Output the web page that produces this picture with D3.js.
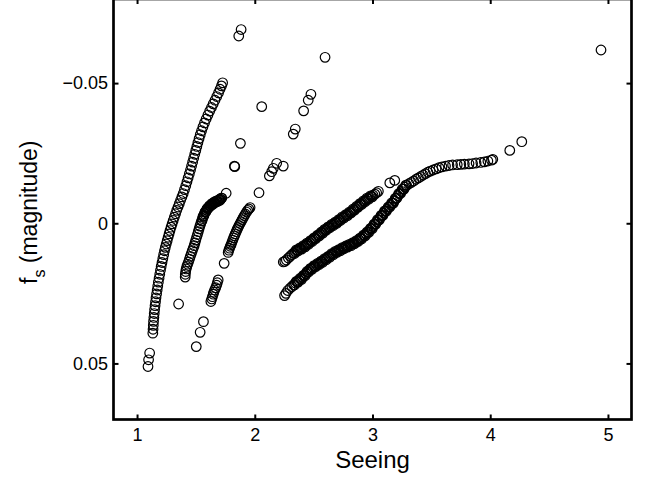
<!DOCTYPE html>
<html>
<head>
<meta charset="utf-8">
<script src="https://cdn.jsdelivr.net/npm/d3@7"></script>
<style>
  html, body { margin: 0; padding: 0; background: #fff; }
  svg { display: block; font-family: "Liberation Sans", Arial, Helvetica, sans-serif; }
</style>
</head>
<body>
<svg id="chart" width="654" height="479"></svg>
<script>
// ---------- data: [seeing, f_s] ----------
const xTicks = [1, 2, 3, 4, 5];
const xTickLabels = ["1", "2", "3", "4", "5"];
const yTicks = [-0.05, 0, 0.05];
const yTickLabels = ["\u22120.05", "0", "0.05"];
const xLabel = "Seeing";

const arcA = [
  [1.093,0.0511],[1.098,0.0487],[1.107,0.0463],
  [1.134,0.0392],[1.136,0.0378],[1.138,0.0364],[1.140,0.0350],[1.143,0.0336],[1.146,0.0322],[1.149,0.0308],
  [1.153,0.0294],[1.157,0.0280],[1.161,0.0266],[1.166,0.0252],[1.171,0.0238],[1.176,0.0224],[1.181,0.0210],
  [1.187,0.0196],[1.193,0.0182],[1.199,0.0168],[1.205,0.0154],[1.212,0.0140],[1.219,0.0126],[1.226,0.0112],
  [1.233,0.0098],[1.240,0.0086],[1.248,0.0074],[1.256,0.0062],[1.264,0.0050],[1.272,0.0038],[1.280,0.0026],
  [1.289,0.0014],[1.298,0.0002],[1.307,-0.0010],[1.317,-0.0022],[1.327,-0.0034],[1.337,-0.0046],[1.348,-0.0058],
  [1.359,-0.0070],[1.370,-0.0082],[1.381,-0.0094],[1.392,-0.0106],[1.403,-0.0120],[1.414,-0.0134],[1.424,-0.0148],
  [1.434,-0.0162],[1.444,-0.0176],[1.454,-0.0190],[1.463,-0.0204],[1.472,-0.0218],[1.481,-0.0232],[1.490,-0.0246],
  [1.499,-0.0260],[1.508,-0.0274],[1.517,-0.0288],[1.527,-0.0302],[1.537,-0.0316],[1.548,-0.0330],[1.560,-0.0344],
  [1.573,-0.0358],[1.587,-0.0372],[1.602,-0.0386],[1.617,-0.0400],[1.632,-0.0413],[1.647,-0.0426],[1.662,-0.0439],
  [1.677,-0.0452],[1.692,-0.0465],[1.705,-0.0478],[1.717,-0.0490],[1.727,-0.0501]
];

const bandB = [
  [1.409,0.0192],[1.410,0.0182],[1.413,0.0172],[1.417,0.0163],[1.423,0.0154],[1.430,0.0146],[1.437,0.0138],
  [1.445,0.0128],[1.453,0.0118],[1.461,0.0108],[1.469,0.0098],[1.477,0.0089],[1.485,0.0080],[1.492,0.0070],
  [1.499,0.0060],[1.506,0.0050],[1.513,0.0040],[1.520,0.0030],[1.527,0.0020],[1.534,0.0010],[1.541,0.0001],
  [1.548,-0.0008],[1.556,-0.0017],[1.564,-0.0026],[1.572,-0.0034],[1.581,-0.0041],[1.590,-0.0047],[1.600,-0.0053],
  [1.610,-0.0058],[1.620,-0.0062],[1.630,-0.0066],[1.640,-0.0069],[1.650,-0.0072],[1.660,-0.0075],[1.670,-0.0077],
  [1.680,-0.0079],[1.690,-0.0081],[1.700,-0.0083],[1.710,-0.0086],[1.720,-0.0090],[1.757,-0.0107]
];

const bandBDense = [
  [1.552,-0.0010],[1.560,-0.0024],[1.568,-0.0028],[1.577,-0.0040],[1.586,-0.0042],[1.595,-0.0052],[1.605,-0.0054],
  [1.615,-0.0062],[1.625,-0.0062],[1.635,-0.0070],[1.645,-0.0068],[1.655,-0.0076],[1.665,-0.0074],[1.675,-0.0080],
  [1.685,-0.0078],[1.695,-0.0084],[1.705,-0.0082],[1.715,-0.0090]
];

const bandC = [
  [1.740,0.0143],[1.774,0.0104],[1.780,0.0096],[1.786,0.0089],[1.792,0.0082],[1.799,0.0076],[1.806,0.0068],
  [1.813,0.0060],[1.820,0.0052],[1.827,0.0045],[1.834,0.0038],[1.842,0.0030],[1.850,0.0022],[1.858,0.0015],
  [1.866,0.0008],[1.875,0.0001],[1.884,-0.0006],[1.893,-0.0013],[1.902,-0.0020],[1.911,-0.0027],[1.920,-0.0033],
  [1.930,-0.0040],[1.940,-0.0046],[1.950,-0.0051],[1.960,-0.0056],[2.036,-0.0109]
];

const bandD = [
  [1.689,0.0202],[1.682,0.0212],[1.676,0.0221],[1.668,0.0230],[1.659,0.0238],[1.652,0.0246],[1.647,0.0253],
  [1.640,0.0262],[1.634,0.0270],[1.627,0.0279]
];

const scattered = [
  [1.353,0.0288],[1.564,0.0351],[1.536,0.0389],[1.503,0.0440],
  [1.884,-0.0691],[1.864,-0.0668],[2.059,-0.0416],[1.878,-0.0285],[1.827,-0.0204],[1.830,-0.0202],
  [2.597,-0.0592],[2.477,-0.0460],[2.454,-0.0439],[2.415,-0.0401],[2.344,-0.0336],[2.327,-0.0318],
  [2.242,-0.0204],[2.186,-0.0214],[2.158,-0.0196],[2.144,-0.0184],[2.124,-0.0169],
  [4.941,-0.0618],[4.268,-0.0291],[4.166,-0.0260]
];

const bandE = [
  [2.242,0.0138],[2.255,0.0136],[2.268,0.0131],[2.285,0.0124],[2.300,0.0118],[2.315,0.0112],[2.330,0.0106],
  [2.345,0.0101],[2.360,0.0097],[2.375,0.0093],[2.390,0.0090],[2.405,0.0086],[2.420,0.0082],[2.435,0.0077],
  [2.450,0.0073],[2.465,0.0068],[2.480,0.0063],[2.495,0.0058],[2.510,0.0053],[2.525,0.0048],[2.540,0.0043],
  [2.555,0.0038],[2.570,0.0033],[2.585,0.0028],[2.600,0.0023],[2.615,0.0019],[2.630,0.0014],[2.645,0.0010],
  [2.660,0.0006],[2.675,0.0002],[2.690,-0.0002],[2.705,-0.0006],[2.720,-0.0011],[2.735,-0.0016],[2.750,-0.0021],
  [2.765,-0.0025],[2.780,-0.0029],[2.795,-0.0033],[2.810,-0.0038],[2.825,-0.0043],[2.840,-0.0048],[2.855,-0.0053],
  [2.870,-0.0058],[2.885,-0.0063],[2.900,-0.0068],[2.915,-0.0073],[2.930,-0.0078],[2.945,-0.0083],[2.960,-0.0088],
  [2.975,-0.0092],[2.990,-0.0096],[3.005,-0.0100],[3.020,-0.0104],[3.035,-0.0109],[3.050,-0.0114],
  [3.147,-0.0144],[3.189,-0.0153]
];

const bandEDense = [
  [2.338,0.0108],[2.353,0.0095],[2.368,0.0099],[2.383,0.0088],[2.398,0.0092],[2.413,0.0080],[2.428,0.0084],
  [2.443,0.0071],[2.458,0.0075],[2.473,0.0062],[2.488,0.0065],[2.503,0.0052],[2.518,0.0055],[2.533,0.0042],
  [2.548,0.0045],[2.563,0.0032],[2.578,0.0035],[2.593,0.0022],[2.608,0.0025],[2.623,0.0013],[2.638,0.0016],
  [2.653,0.0004],[2.668,0.0008],[2.683,-0.0004],[2.698,0.0000],[2.713,-0.0013],[2.728,-0.0010],[2.743,-0.0023],
  [2.758,-0.0019],[2.773,-0.0031],[2.788,-0.0027],[2.803,-0.0040],[2.818,-0.0037],[2.833,-0.0050],[2.848,-0.0047],
  [2.863,-0.0060],[2.878,-0.0057],[2.893,-0.0070],[2.908,-0.0067],[2.923,-0.0080],[2.938,-0.0077],[2.953,-0.0090],
  [2.968,-0.0086],[2.983,-0.0098],[2.998,-0.0094]
];

const bandF = [
  [2.253,0.0258],[2.265,0.0250],[2.280,0.0240],[2.299,0.0232],[2.315,0.0226],[2.330,0.0220],[2.345,0.0213],
  [2.360,0.0208],[2.375,0.0203],[2.390,0.0198],[2.405,0.0193],[2.420,0.0186],[2.435,0.0179],[2.450,0.0173],
  [2.465,0.0167],[2.480,0.0162],[2.495,0.0157],[2.510,0.0153],[2.525,0.0149],[2.540,0.0145],[2.555,0.0141],
  [2.570,0.0137],[2.585,0.0132],[2.600,0.0128],[2.615,0.0124],[2.630,0.0119],[2.645,0.0114],[2.660,0.0110],
  [2.675,0.0106],[2.690,0.0102],[2.705,0.0099],[2.720,0.0096],[2.735,0.0092],[2.750,0.0089],[2.765,0.0086],
  [2.780,0.0083],[2.795,0.0080],[2.810,0.0077],[2.825,0.0074],[2.840,0.0071],[2.855,0.0068],[2.870,0.0064],
  [2.885,0.0059],[2.900,0.0054],[2.915,0.0049],[2.930,0.0043],[2.945,0.0038],[2.960,0.0032],[2.975,0.0025],
  [2.990,0.0018],[3.005,0.0011],[3.020,0.0003],[3.035,-0.0005],[3.050,-0.0012],[3.065,-0.0020],[3.080,-0.0028],
  [3.095,-0.0036],[3.110,-0.0043],[3.125,-0.0050],[3.140,-0.0058],[3.155,-0.0065],[3.170,-0.0072],[3.185,-0.0080],
  [3.200,-0.0089],[3.215,-0.0098],[3.230,-0.0106],[3.245,-0.0114],[3.260,-0.0122],[3.275,-0.0129],[3.290,-0.0135],
  [3.310,-0.0141],[3.330,-0.0146],[3.350,-0.0151],[3.370,-0.0157],[3.390,-0.0162],[3.410,-0.0167],[3.430,-0.0172],
  [3.450,-0.0177],[3.470,-0.0182],[3.490,-0.0186],[3.515,-0.0190],[3.540,-0.0194],[3.565,-0.0198],[3.590,-0.0201],
  [3.620,-0.0204],[3.650,-0.0206],[3.680,-0.0208],[3.720,-0.0209],[3.750,-0.0210],[3.780,-0.0211],[3.820,-0.0212],
  [3.850,-0.0213],[3.880,-0.0215],[3.920,-0.0217],[3.950,-0.0219],[3.980,-0.0222],[4.010,-0.0225],[4.022,-0.0228]
];

const bandFDense = [
  [2.338,0.0220],[2.353,0.0207],[2.368,0.0210],[2.383,0.0197],[2.398,0.0200],[2.413,0.0186],[2.428,0.0187],
  [2.443,0.0172],[2.458,0.0174],[2.473,0.0161],[2.488,0.0164],[2.503,0.0151],[2.518,0.0155],[2.533,0.0143],
  [2.548,0.0147],[2.563,0.0135],[2.578,0.0139],[2.593,0.0126],[2.608,0.0130],[2.623,0.0118],[2.638,0.0121],
  [2.653,0.0108],[2.668,0.0112],[2.683,0.0100],[2.698,0.0104],[2.713,0.0094],[2.728,0.0098],[2.743,0.0087],
  [2.758,0.0091],[2.773,0.0081],[2.788,0.0085],[2.803,0.0075],[2.818,0.0080],[2.833,0.0069],[2.848,0.0073],
  [2.863,0.0062],[2.878,0.0065],[2.893,0.0053],[2.908,0.0056],[2.923,0.0042],[2.938,0.0045],[2.953,0.0031],
  [2.968,0.0033],[2.983,0.0018],[2.998,0.0019],[3.013,0.0003],[3.028,0.0003],[3.043,-0.0013],[3.058,-0.0012],
  [3.073,-0.0028],[3.088,-0.0028],[3.103,-0.0044],[3.118,-0.0043],[3.133,-0.0058],[3.148,-0.0058],[3.163,-0.0073],
  [3.178,-0.0072],[3.193,-0.0089],[3.208,-0.0090],[3.223,-0.0106],[3.238,-0.0106],[3.253,-0.0122],[3.268,-0.0122],
  [3.283,-0.0136]
];

// ---------- layout ----------
const plot = { left: 113.5, right: 631.5, top: -1, bottom: 419.5 };
const svg = d3.select("#chart");

const x = d3.scaleLinear().domain([0.8, 5.2]).range([plot.left, plot.right]);
const y = d3.scaleLinear().domain([-0.08, 0.07]).range([plot.top, plot.bottom]);

const allPoints = [].concat(arcA, bandB, bandBDense, bandC, bandD, scattered, bandE, bandEDense, bandF, bandFDense);

// points
svg.append("g")
  .selectAll("circle")
  .data(allPoints)
  .join("circle")
  .attr("cx", d => x(d[0]))
  .attr("cy", d => y(d[1]))
  .attr("r", 4.8)
  .attr("fill", "none")
  .attr("stroke", "#000")
  .attr("stroke-width", 1.2);

// axes
const tickLen = 5;
const fontSize = 18;

const xAxisB = d3.axisBottom(x).tickValues(xTicks).tickFormat((d, i) => xTickLabels[i])
  .tickSizeInner(-tickLen).tickSizeOuter(0).tickPadding(9);
const gxb = svg.append("g").attr("transform", `translate(0,${plot.bottom})`).call(xAxisB);

const xAxisT = d3.axisTop(x).tickValues(xTicks).tickFormat("")
  .tickSizeInner(-tickLen).tickSizeOuter(0);
const gxt = svg.append("g").attr("transform", `translate(0,${plot.top})`).call(xAxisT);

const yAxisL = d3.axisLeft(y).tickValues(yTicks).tickFormat((d, i) => yTickLabels[i])
  .tickSizeInner(-tickLen).tickSizeOuter(0).tickPadding(5.5);
const gyl = svg.append("g").attr("transform", `translate(${plot.left},0)`).call(yAxisL);

const yAxisR = d3.axisRight(y).tickValues(yTicks).tickFormat("")
  .tickSizeInner(-tickLen).tickSizeOuter(0);
const gyr = svg.append("g").attr("transform", `translate(${plot.right},0)`).call(yAxisR);

[gxb, gxt, gyl, gyr].forEach(g => {
  g.select(".domain").remove();
  g.selectAll(".tick line").attr("stroke", "#000").attr("stroke-width", 2);
  g.selectAll(".tick text")
    .attr("fill", "#000")
    .style("font-family", '"Liberation Sans", Arial, Helvetica, sans-serif')
    .style("font-size", fontSize + "px");
});

// box
svg.append("rect")
  .attr("x", plot.left).attr("y", plot.top)
  .attr("width", plot.right - plot.left).attr("height", plot.bottom - plot.top)
  .attr("fill", "none").attr("stroke", "#000").attr("stroke-width", 2.7);

// x label
svg.append("text")
  .attr("x", (plot.left + plot.right) / 2)
  .attr("y", 468)
  .attr("text-anchor", "middle")
  .style("font-size", "24px")
  .attr("fill", "#000")
  .text(xLabel);

// y label: f_s (magnitude)
const yl = svg.append("text")
  .attr("transform", `translate(37,${(plot.top + plot.bottom) / 2 + 3}) rotate(-90)`)
  .attr("text-anchor", "middle")
  .style("font-size", "23px")
  .attr("fill", "#000");
yl.append("tspan").text("f");
yl.append("tspan").attr("dy", 8).style("font-size", "16px").text("s");
yl.append("tspan").attr("dy", -8).text(" (magnitude)");
</script>
</body>
</html>
